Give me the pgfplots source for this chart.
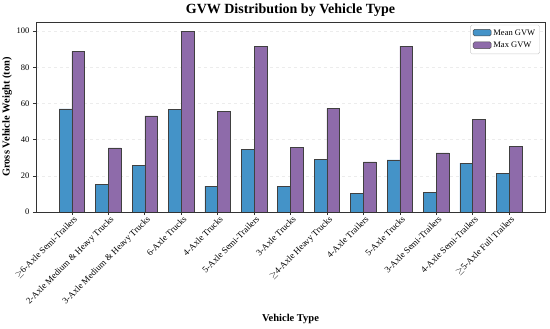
\documentclass[border=0pt]{standalone}
\usepackage{fontspec}
\setmainfont{Liberation Serif}
\usepackage{pgfplots}
\pgfplotsset{compat=1.18}
\definecolor{meanc}{HTML}{4493C8}
\definecolor{maxc}{HTML}{8E6BAA}
\definecolor{framec}{HTML}{333333}
\begin{document}
\begin{tikzpicture}[x=1pt,y=1pt]
\path[use as bounding box] (-36,-117) rectangle (514,212);
\begin{axis}[
  at={(0,0)}, anchor=south west,
  scale only axis, width=509pt, height=190pt,
  xmin=-0.985, xmax=12.985, ymin=0, ymax=105,
  xtick={0,...,12},
  xticklabels={{$\geq$6-Axle Semi-Trailers},{2-Axle Medium \& Heavy Trucks},{3-Axle Medium \& Heavy Trucks},{6-Axle Trucks},{4-Axle Trucks},{5-Axle Semi-Trailers},{3-Axle Trucks},{$\geq$4-Axle Heavy Trucks},{4-Axle Trailers},{5-Axle Trucks},{3-Axle Semi-Trailers},{4-Axle Semi-Trailers},{$\geq$5-Axle Full Trailers}},
  x tick label style={rotate=45, anchor=north east, font=\fontsize{9}{10}\selectfont, inner sep=1pt, xshift=2pt},
  ytick={0,20,40,60,80,100},
  y tick label style={font=\fontsize{8.5}{10}\selectfont},
  /pgf/number format/assume math mode=true,
  tick align=outside, tick pos=left,
  major tick length=3pt,
  every tick/.style={framec, line width=0.6pt},
  axis line style={framec, line width=0.7pt},
  ymajorgrids, grid style={dashed, gray!15, line width=0.4pt},
  title={\bfseries GVW Distribution by Vehicle Type},
  title style={font=\fontsize{14}{16}\selectfont, yshift=-4pt},
  xlabel={\bfseries Vehicle Type},
  ylabel={\bfseries Gross Vehicle Weight (ton)},
  xlabel style={font=\fontsize{10.5}{12}\selectfont, yshift=-4pt},
  ylabel style={font=\fontsize{10.5}{12}\selectfont, yshift=-2pt},
  legend style={at={(0.99,0.985)}, anchor=north east, draw=gray!40, rounded corners=1.5pt, font=\fontsize{8.5}{10}\selectfont, inner sep=2.5pt, row sep=1.5pt},
  legend cell align=left,
  legend image code/.code={\draw[#1, draw=black!70] (0pt,-2.8pt) rectangle (18pt,3.8pt);},
]
\addplot[ybar, bar width=0.35, bar shift=-0.175, fill=meanc, draw=black!75, line width=0.5pt] coordinates {
(0,57.0) (1,15.4) (2,25.9) (3,56.6) (4,14.3) (5,34.8) (6,14.0) (7,29.2) (8,10.1) (9,28.8) (10,10.9) (11,27.0) (12,21.4)};
\addlegendentry{Mean GVW}
\addplot[ybar, bar width=0.35, bar shift=0.175, fill=maxc, draw=black!75, line width=0.5pt] coordinates {
(0,88.7) (1,35.4) (2,53.1) (3,99.8) (4,55.7) (5,91.6) (6,35.9) (7,57.3) (8,27.7) (9,91.7) (10,32.7) (11,51.1) (12,36.2)};
\addlegendentry{Max GVW}
\end{axis}
\end{tikzpicture}
\end{document}
